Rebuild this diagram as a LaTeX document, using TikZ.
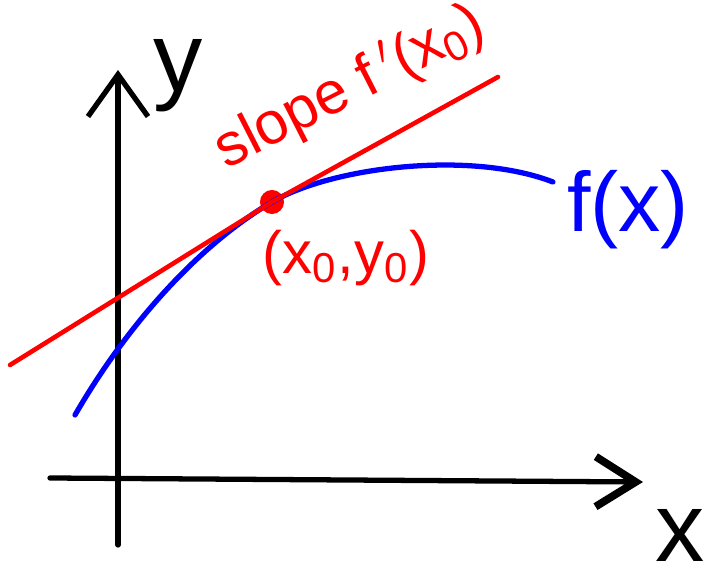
\documentclass[tikz,border=0pt]{standalone}
\usepackage{fontspec}
\setmainfont{Liberation Sans}
\usetikzlibrary{arrows.meta,positioning}

\begin{document}
\begin{tikzpicture}[x=0.01cm,y=-0.01cm,line cap=round,line join=round,
axis/.style={draw=black,line width=1.5pt},
tangent/.style={draw=red,line width=1.3pt},
curve/.style={draw=blue,line width=1.5pt},
lbl/.style={font=\fontsize{17}{20}\selectfont,inner sep=0pt}]
\useasboundingbox (0,0) rectangle (705,582);
% axes
\coordinate (o1) at (118,545);\coordinate (o2) at (118,70);
\coordinate (o3) at (50,478);\coordinate (o4) at (643,482);
\draw[axis,-{Straight Barb[length=4.2mm,width=6mm,line width=1.5pt]}] (o1)--(o2);
\draw[axis,-{Straight Barb[length=4mm,width=5mm,line width=2.2pt]}] (o3)--(o4);
\node[lbl,font=\fontsize{28}{32}\selectfont] (ylab) at (178,76) {y};
\node[lbl,font=\fontsize{28}{32}\selectfont] (xlab) at (680,535) {x};
% curve and tangent
\node[circle,fill=red,minimum size=0.24cm,inner sep=0pt] (p0) at (272,202) {};
\coordinate (c1) at (75,415);\coordinate (c2) at (553,182);
\draw[curve] (c1) .. controls (130,320) and (202,243) .. (p0.center)
  .. controls (332,167) and (470,150) .. (c2);
\coordinate (t1) at (10,365);\coordinate (t2) at (498,77);
\draw[tangent] (t1)--(p0.center)--(t2);
% labels
\node[lbl,text=red,rotate=27] (slope) at (350,88) {slope f\,$'$(x\textsubscript{0})};
\node[lbl,text=red] (pt) at (346,258) {(x\textsubscript{0},y\textsubscript{0})};
\node[lbl,text=blue,font=\fontsize{24}{28}\selectfont] (fx) at (628,210) {f(x)};
\end{tikzpicture}
\end{document}
